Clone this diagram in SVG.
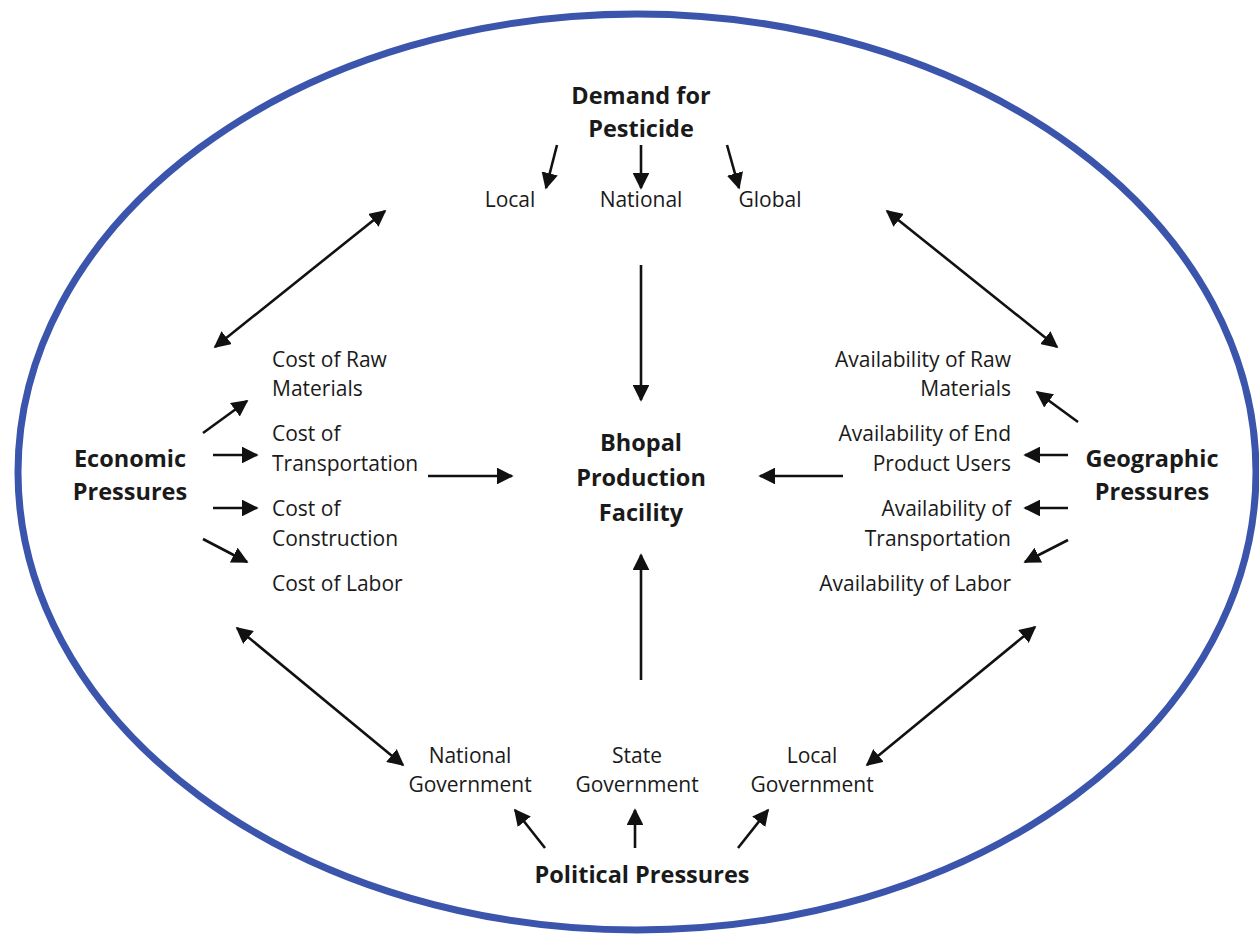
<svg xmlns="http://www.w3.org/2000/svg" width="1259" height="940" viewBox="0 0 1259 940">
  <style>
    text { font-family: "Open Sans", Lato, "Liberation Sans", sans-serif; fill: #1a1a1a; }
    .t { font-size: 21px; }
    .b { font-size: 23.5px; font-weight: bold; }
    .c { text-anchor: middle; }
    .e { text-anchor: end; }
    .a { stroke: #111; stroke-width: 2.6; fill: none; marker-end: url(#head); }
    .d { stroke: #111; stroke-width: 2.6; fill: none; marker-start: url(#headStart); marker-end: url(#head); }
  </style>
  <defs>
    <marker id="head" viewBox="0 0 10 10" refX="9" refY="5" markerWidth="6.4" markerHeight="6.4" markerUnits="strokeWidth" orient="auto">
      <path d="M0,0 L10,5 L0,10 z" fill="#111"/>
    </marker>
    <marker id="headStart" viewBox="0 0 10 10" refX="1" refY="5" markerWidth="6.4" markerHeight="6.4" markerUnits="strokeWidth" orient="auto">
      <path d="M10,0 L0,5 L10,10 z" fill="#111"/>
    </marker>
  </defs>
  <rect width="1259" height="940" fill="#fff"/>

  <!-- outer boundary -->
  <ellipse id="boundary" cx="637" cy="472" rx="619" ry="458" fill="none" stroke="#3a55ab" stroke-width="7"/>

  <g id="connectors">
    <!-- demand branches -->
    <line class="a" x1="557" y1="145" x2="546" y2="188"/>
    <line class="a" x1="641" y1="145" x2="641" y2="188"/>
    <line class="a" x1="727" y1="145" x2="739" y2="188"/>
    <!-- into the facility -->
    <line class="a" x1="641" y1="265" x2="641" y2="400"/>
    <line class="a" x1="641" y1="680" x2="641" y2="555"/>
    <line class="a" x1="428" y1="476" x2="512" y2="476"/>
    <line class="a" x1="843" y1="476" x2="760" y2="476"/>
    <!-- two-way links between pressure groups -->
    <line class="d" x1="215" y1="347" x2="385" y2="211"/>
    <line class="d" x1="887" y1="211" x2="1057" y2="347"/>
    <line class="d" x1="237" y1="628" x2="403" y2="765"/>
    <line class="d" x1="1035" y1="627" x2="867" y2="765"/>
    <!-- economic branches -->
    <line class="a" x1="203" y1="433" x2="247" y2="401"/>
    <line class="a" x1="213" y1="455" x2="257" y2="455"/>
    <line class="a" x1="213" y1="508" x2="257" y2="508"/>
    <line class="a" x1="203" y1="539" x2="247" y2="562"/>
    <!-- geographic branches -->
    <line class="a" x1="1078" y1="422" x2="1037" y2="392"/>
    <line class="a" x1="1068" y1="455" x2="1025" y2="455"/>
    <line class="a" x1="1068" y1="508" x2="1025" y2="508"/>
    <line class="a" x1="1068" y1="540" x2="1025" y2="562"/>
    <!-- political branches -->
    <line class="a" x1="545" y1="848" x2="515" y2="810"/>
    <line class="a" x1="635" y1="848" x2="635" y2="810"/>
    <line class="a" x1="738" y1="848" x2="768" y2="810"/>
  </g>

  <g id="demand">
    <text class="b c" x="641" y="104">Demand for</text>
    <text class="b c" x="641" y="137">Pesticide</text>
  </g>
  <g id="demand-local"><text class="t c" x="510" y="207">Local</text></g>
  <g id="demand-national"><text class="t c" x="641" y="207">National</text></g>
  <g id="demand-global"><text class="t c" x="770" y="207">Global</text></g>

  <g id="facility">
    <text class="b c" x="641" y="451">Bhopal</text>
    <text class="b c" x="641" y="486">Production</text>
    <text class="b c" x="641" y="521">Facility</text>
  </g>

  <g id="economic">
    <text class="b c" x="130" y="467">Economic</text>
    <text class="b c" x="130" y="500">Pressures</text>
  </g>
  <g id="cost-raw">
    <text class="t" x="272" y="367">Cost of Raw</text>
    <text class="t" x="272" y="396">Materials</text>
  </g>
  <g id="cost-transport">
    <text class="t" x="272" y="441">Cost of</text>
    <text class="t" x="272" y="471">Transportation</text>
  </g>
  <g id="cost-construction">
    <text class="t" x="272" y="516">Cost of</text>
    <text class="t" x="272" y="546">Construction</text>
  </g>
  <g id="cost-labor"><text class="t" x="272" y="591">Cost of Labor</text></g>

  <g id="geographic">
    <text class="b c" x="1152" y="467">Geographic</text>
    <text class="b c" x="1152" y="500">Pressures</text>
  </g>
  <g id="avail-raw">
    <text class="t e" x="1011" y="367">Availability of Raw</text>
    <text class="t e" x="1011" y="396">Materials</text>
  </g>
  <g id="avail-users">
    <text class="t e" x="1011" y="441">Availability of End</text>
    <text class="t e" x="1011" y="471">Product Users</text>
  </g>
  <g id="avail-transport">
    <text class="t e" x="1011" y="516">Availability of</text>
    <text class="t e" x="1011" y="546">Transportation</text>
  </g>
  <g id="avail-labor"><text class="t e" x="1011" y="591">Availability of Labor</text></g>

  <g id="gov-national">
    <text class="t c" x="470" y="763">National</text>
    <text class="t c" x="470" y="792">Government</text>
  </g>
  <g id="gov-state">
    <text class="t c" x="637" y="763">State</text>
    <text class="t c" x="637" y="792">Government</text>
  </g>
  <g id="gov-local">
    <text class="t c" x="812" y="763">Local</text>
    <text class="t c" x="812" y="792">Government</text>
  </g>

  <g id="political">
    <text class="b c" x="642" y="883">Political Pressures</text>
  </g>
</svg>
